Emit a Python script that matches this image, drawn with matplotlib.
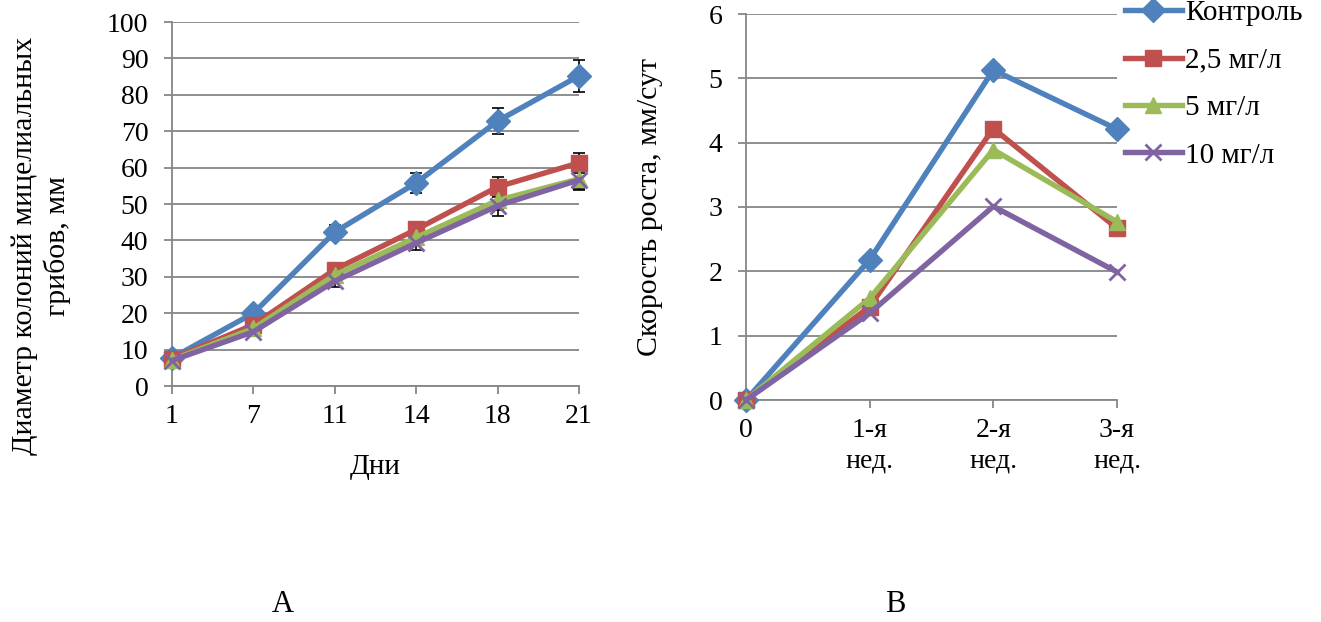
import matplotlib.pyplot as plt
import numpy as np

plt.rcParams['font.family'] = ['Liberation Serif', 'DejaVu Serif']

# Диаметр колоний (мм) по дням
days = ['1', '7', '11', '14', '18', '21']
series_names = ['Контроль', '2,5 мг/л', '5 мг/л', '10 мг/л']
diam_control = [7.7, 20.0, 42.3, 55.8, 72.8, 85.2]
diam_25 = [7.5, 16.8, 32.0, 43.0, 54.7, 61.3]
diam_5 = [7.2, 15.8, 30.5, 40.8, 51.0, 56.9]
diam_10 = [7.0, 14.9, 28.8, 39.3, 49.5, 56.6]
err_control = [0.5, 1.0, 2.0, 2.7, 3.6, 4.3]
err_25 = [0.5, 1.0, 1.5, 2.0, 2.7, 2.7]
err_5 = [0.5, 1.0, 1.5, 2.0, 2.7, 2.7]
err_10 = [0.5, 1.0, 1.5, 2.0, 2.7, 2.7]

# Скорость роста (мм/сут) по неделям
weeks = ['0', '1-я\nнед.', '2-я\nнед.', '3-я\nнед.']
rate_control = [0, 2.18, 5.13, 4.21]
rate_25 = [0, 1.45, 4.22, 2.67]
rate_5 = [0, 1.58, 3.89, 2.77]
rate_10 = [0, 1.35, 3.01, 1.99]

colors = ['#4F81BD', '#C0504D', '#9BBB59', '#8064A2']
markers = ['D', 's', '^', 'x']
msizes = [12.5, 11.5, 12, 12]
grid_col = '#868686'
fs = 20
fs_lab = 21.5

W, H = 1321, 622
fig = plt.figure(figsize=(W / 100, H / 100), dpi=100)


def style_axes(ax):
    ax.yaxis.grid(True, color=grid_col, linewidth=1.3)
    ax.set_axisbelow(True)
    for side in ['top', 'right']:
        ax.spines[side].set_visible(False)
    for side in ['left', 'bottom']:
        ax.spines[side].set_color(grid_col)
        ax.spines[side].set_linewidth(1.3)
    ax.tick_params(colors=grid_col, labelcolor='black', length=6, width=1.3,
                   labelsize=fs)
    ax.tick_params(axis='y', pad=11)
    ax.tick_params(axis='x', pad=7)


def draw_series(ax, values):
    x = np.arange(len(values[0]))
    for i, vals in enumerate(values):
        ax.plot(x, vals, color=colors[i], marker=markers[i], markersize=msizes[i],
                markeredgewidth=2 if markers[i] == 'x' else 1,
                markeredgecolor=colors[i], linewidth=3.9, label=series_names[i],
                clip_on=False, zorder=3 + i)


# График A
ax1 = fig.add_axes([172 / W, 1 - 386 / H, (579 - 172) / W, (386 - 22) / H])
style_axes(ax1)
diam = [diam_control, diam_25, diam_5, diam_10]
errs = [err_control, err_25, err_5, err_10]
x1 = np.arange(len(days))
for vals, e in zip(diam, errs):
    ax1.errorbar(x1, vals, yerr=e, fmt='none', ecolor='black', elinewidth=1.2,
                 capsize=4, capthick=1.2, zorder=2.5, clip_on=False)
draw_series(ax1, diam)
ax1.set_xlim(0, len(days) - 1)
ax1.set_ylim(0, 100)
ax1.set_yticks(np.arange(0, 101, 10))
ax1.set_xticks(x1)
ax1.set_xticklabels(days)

# График B
ax2 = fig.add_axes([746 / W, 1 - 400 / H, (1117 - 746) / W, (400 - 14) / H])
style_axes(ax2)
draw_series(ax2, [rate_control, rate_25, rate_5, rate_10])
ax2.set_xlim(0, len(weeks) - 1)
ax2.set_ylim(0, 6)
ax2.set_yticks(np.arange(0, 7, 1))
ax2.set_xticks(np.arange(len(weeks)))
ax2.set_xticklabels(weeks, linespacing=1.3)

ax2.legend(loc='upper left', bbox_to_anchor=(1125 / W, 1.0),
           bbox_transform=fig.transFigure, frameon=False, fontsize=21,
           handlelength=1.95, handletextpad=0.12, labelspacing=0.72,
           borderpad=0, borderaxespad=0)

# Подписи осей и панелей
fig.text(41 / W, 1 - 246 / H, 'Диаметр колоний мицелиальных\nгрибов, мм',
         rotation=90, ha='center', va='center', fontsize=fs_lab, linespacing=1.25)
fig.text(650 / W, 1 - 207 / H, 'Скорость роста, мм/сут',
         rotation=90, ha='center', va='center', fontsize=fs_lab)
fig.text(375 / W, 1 - 467 / H, 'Дни', ha='center', va='center', fontsize=21)
fig.text(283 / W, 1 - 605 / H, 'A', ha='center', va='center', fontsize=22)
fig.text(895 / W, 1 - 605 / H, 'B', ha='center', va='center', fontsize=22)

fig.savefig('out.png', dpi=100)
